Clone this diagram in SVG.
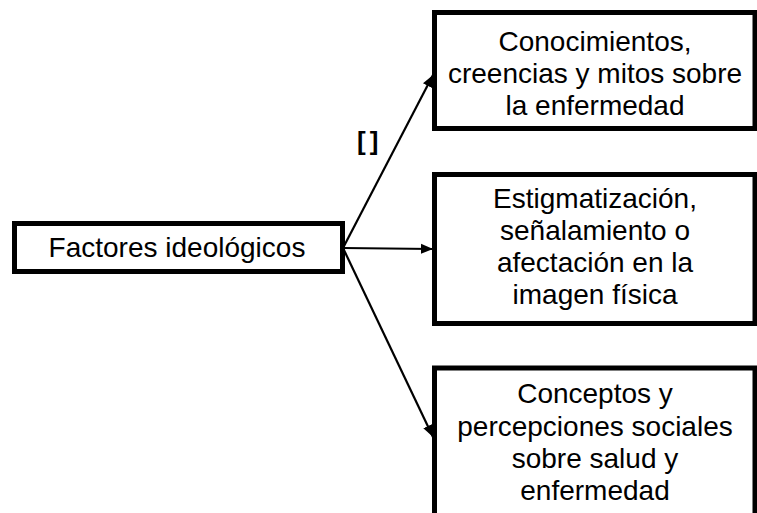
<svg xmlns="http://www.w3.org/2000/svg" width="757" height="513" viewBox="0 0 757 513">
<style>
.box{fill:#fff;stroke:#000;stroke-width:5}
.t{font-family:"Liberation Sans",Arial,sans-serif;font-size:28px;fill:#000;text-anchor:middle}
.c{stroke:#000;stroke-width:2.2;fill:none}
.lbl{font-family:"Liberation Sans",Arial,sans-serif;font-size:26px;font-weight:bold;fill:#000;letter-spacing:4px}
</style>
<defs>
<marker id="ah" markerUnits="userSpaceOnUse" markerWidth="14" markerHeight="12" refX="12" refY="6" orient="auto">
<path d="M0,1 L12,6 L0,11 Z" fill="#000"/>
</marker>
</defs>
<rect width="757" height="513" fill="#fff"/>
<g id="connectors">
<line class="c" x1="343" y1="248" x2="433" y2="75" marker-end="url(#ah)"/>
<line class="c" x1="343" y1="248" x2="433" y2="249" marker-end="url(#ah)"/>
<line class="c" x1="343" y1="248" x2="433" y2="437" marker-end="url(#ah)"/>
<text class="lbl" x="357" y="150">[]</text>
</g>
<g id="n-factores">
<rect class="box" x="14.5" y="223.5" width="328" height="48"/>
<text class="t" x="177" y="257">Factores ideológicos</text>
</g>
<g id="n-conocimientos">
<rect class="box" x="434.5" y="12.5" width="320.5" height="116"/>
<text class="t" x="595" y="51">Conocimientos,</text>
<text class="t" x="595" y="83">creencias y mitos sobre</text>
<text class="t" x="595" y="115">la enfermedad</text>
</g>
<g id="n-estigmatizacion">
<rect class="box" x="434.5" y="174.5" width="320.5" height="149"/>
<text class="t" x="595" y="208">Estigmatización,</text>
<text class="t" x="595" y="240">señalamiento o</text>
<text class="t" x="595" y="272">afectación en la</text>
<text class="t" x="595" y="304">imagen física</text>
</g>
<g id="n-conceptos">
<rect class="box" x="434.5" y="368" width="320.5" height="160"/>
<text class="t" x="595" y="403">Conceptos y</text>
<text class="t" x="595" y="436">percepciones sociales</text>
<text class="t" x="595" y="468">sobre salud y</text>
<text class="t" x="595" y="500">enfermedad</text>
</g>
</svg>
